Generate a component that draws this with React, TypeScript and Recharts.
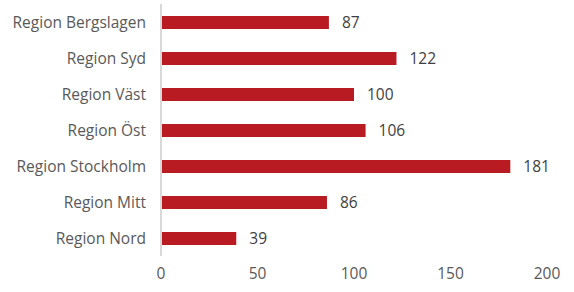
import { BarChart, Bar, XAxis, YAxis, LabelList } from "recharts";

const regions = [
  "Region Bergslagen",
  "Region Syd",
  "Region Väst",
  "Region Öst",
  "Region Stockholm",
  "Region Mitt",
  "Region Nord",
];
const counts = [87, 122, 100, 106, 181, 86, 39];
const xTicks = [0, 50, 100, 150, 200];

const data = regions.map((r, i) => ({ region: r, antal: counts[i] }));

const font = "'Open Sans', 'Noto Sans', sans-serif";

export default function App() {
  return (
    <div style={{ position: "absolute", left: 0, top: 0, background: "#fff" }}>
      <BarChart
        width={574}
        height={292}
        data={data}
        layout="vertical"
        margin={{ top: 4, right: 27, bottom: 6, left: 0 }}
        barCategoryGap={0}
      >
        <XAxis
          type="number"
          domain={[0, 200]}
          ticks={xTicks}
          axisLine={false}
          tickLine={false}
          tickSize={0}
          tickMargin={12}
          height={30}
          tick={{ fill: "#595959", fontSize: 15.5, fontFamily: font }}
        />
        <YAxis
          type="category"
          dataKey="region"
          width={161}
          axisLine={{ stroke: "#d9d9d9", strokeWidth: 2 }}
          tickLine={false}
          tickSize={0}
          tickMargin={15}
          tick={{ fill: "#595959", fontSize: 15.5, fontFamily: font }}
        />
        <Bar dataKey="antal" fill="#B81C22" barSize={13} isAnimationActive={false}>
          <LabelList
            dataKey="antal"
            position="right"
            offset={13}
            style={{ fill: "#404040", fontSize: 15.5, fontFamily: font }}
          />
        </Bar>
      </BarChart>
    </div>
  );
}
